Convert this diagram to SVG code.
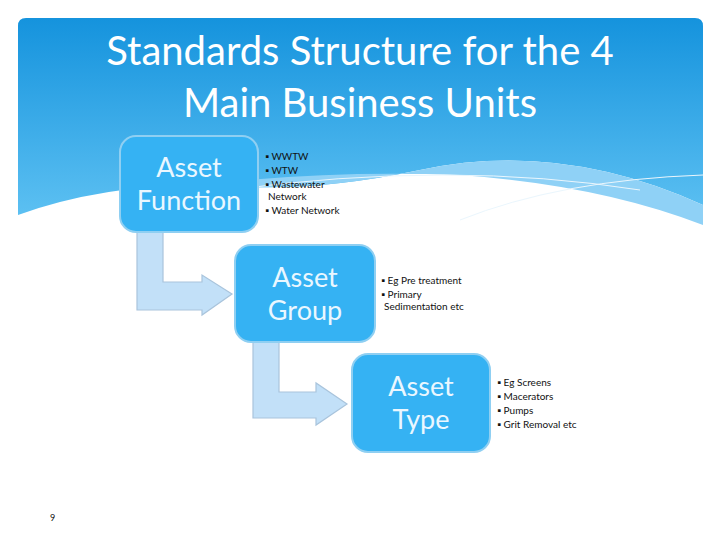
<svg xmlns="http://www.w3.org/2000/svg" width="720" height="540" viewBox="0 0 720 540">
<defs>
<linearGradient id="hg" x1="0" y1="0" x2="0" y2="1"><stop offset="0" stop-color="#1593dd"/><stop offset="1" stop-color="#5cc0f2"/></linearGradient>
<style>
.box{fill:#35b2f3;stroke:#8fcff2;stroke-width:2}
.arr{fill:#c2e0f8;stroke:#a9c4dc;stroke-width:1.2}
.bt{font-family:Lato,"Open Sans",sans-serif;font-size:27px;fill:#eaf7ff;text-anchor:middle}
.sm{font-family:Lato,"Open Sans",sans-serif;font-size:10px;fill:#111}
.ti{font-family:Lato,"Open Sans",sans-serif;font-size:40px;fill:#fff;text-anchor:middle}
</style>
</defs>
<rect width="720" height="540" fill="#fff"/>
<g id="header">
<path d="M26,18 H695 Q703,18 703,26 V205 Q560,140 420,170 Q300,195 210,184 Q100,185 18,215 V26 Q18,18 26,18 Z" fill="url(#hg)"/>
<path d="M210,184 Q330,170 460,175 Q600,185 703,225 V205 Q560,140 420,170 Q300,195 210,184 Z" fill="#8fd1f6"/>
<path d="M460,220 Q560,180 703,175" fill="none" stroke="#eaf6fd" stroke-width="1"/>
<path d="M230,190 Q450,160 640,190" fill="none" stroke="#eaf6fd" stroke-width="1"/>
<text class="ti" x="360" y="65">Standards Structure for the 4</text>
<text class="ti" x="360" y="117">Main Business Units</text>
</g>
<g id="connectors">
<path class="arr" d="M137,232 H163 V282 H202 V275 L232,294 L202,315 V310 H137 Z"/>
<path class="arr" d="M253,342 H279 V392 H316 V383 L347,404 L316,425 V418 H253 Z"/>
</g>
<g id="asset-function">
<rect class="box" x="120" y="136" width="138" height="96" rx="16"/>
<text class="bt" x="189" y="177">Asset</text><text class="bt" x="189" y="210">Function</text>
<text class="sm" x="265" y="160">▪ WWTW</text><text class="sm" x="265" y="174">▪ WTW</text>
<text class="sm" x="265" y="188">▪ Wastewater</text><text class="sm" x="268" y="200">Network</text>
<text class="sm" x="265" y="214">▪ Water Network</text>
</g>
<g id="asset-group">
<rect class="box" x="235" y="245" width="140" height="97" rx="16"/>
<text class="bt" x="305" y="287">Asset</text><text class="bt" x="305" y="320">Group</text>
<text class="sm" x="381" y="284">▪ Eg Pre treatment</text><text class="sm" x="381" y="298">▪ Primary</text>
<text class="sm" x="384" y="310">Sedimentation etc</text>
</g>
<g id="asset-type">
<rect class="box" x="352" y="354" width="138" height="98" rx="16"/>
<text class="bt" x="421" y="396">Asset</text><text class="bt" x="421" y="429">Type</text>
<text class="sm" x="497" y="386">▪ Eg Screens</text><text class="sm" x="497" y="400">▪ Macerators</text>
<text class="sm" x="497" y="414">▪ Pumps</text><text class="sm" x="497" y="428">▪ Grit Removal etc</text>
</g>
<text class="sm" x="50" y="521" style="font-size:9px">9</text>
</svg>
